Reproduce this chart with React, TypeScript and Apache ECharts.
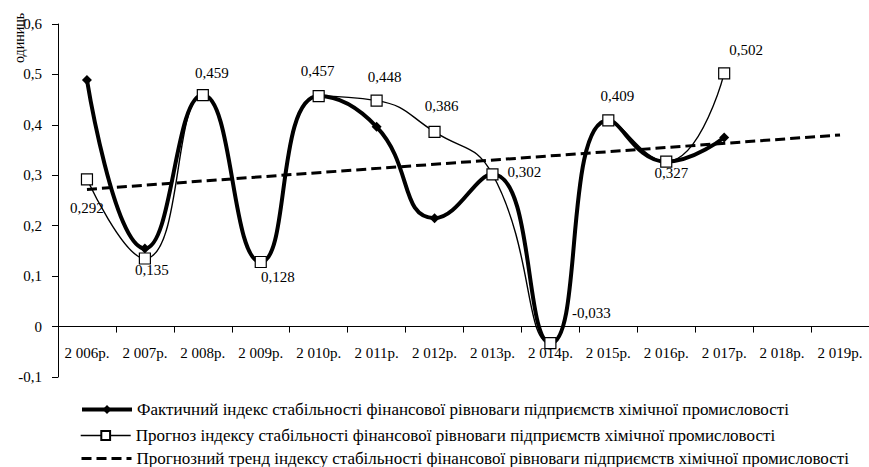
import React, { useEffect, useRef } from "react";
import * as echarts from "echarts";

const years = ["2 006р.", "2 007р.", "2 008р.", "2 009р.", "2 010р.", "2 011р.", "2 012р.", "2 013р.", "2 014р.", "2 015р.", "2 016р.", "2 017р.", "2 018р.", "2 019р."];
const actual = [0.489, 0.155, 0.459, 0.128, 0.457, 0.396, 0.215, 0.302, -0.033, 0.409, 0.327, 0.375, null, null];
const forecast = [0.292, 0.135, 0.459, 0.128, 0.457, 0.448, 0.386, 0.302, -0.033, 0.409, 0.327, 0.502, null, null];
const trend = [0.272, null, null, null, null, null, null, null, null, null, null, null, null, 0.38];
const seriesNames = [
  "Фактичний індекс стабільності фінансової рівноваги підприємств хімічної промисловості",
  "Прогноз індексу стабільності фінансової рівноваги підприємств хімічної промисловості",
  "Прогнозний тренд індексу стабільності фінансової рівноваги підприємств хімічної промисловості",
];
const yTitle = "одиниць";

const labelOffsets = [
  [0, 29], [7, 12], [9, -22], [17, 15], [-1, -25], [8, -24],
  [7, -26], [32, -2], [41, -30], [9, -24], [5, 11], [22, -23],
];

const FONT = "Liberation Serif";

export default function App() {
  const ref = useRef<HTMLDivElement>(null);
  useEffect(() => {
    if (!ref.current) return;
    const chart = echarts.init(ref.current, null, { renderer: "svg" });
    const fmt = (v: number) => (v === 0 ? "0" : String(Math.round(v * 10) / 10).replace(".", ","));
    const legendRow = (i: number, top: number, extra: any) => ({
      orient: "horizontal",
      left: 80,
      top,
      itemWidth: 50,
      itemHeight: 12,
      padding: 0,
      textStyle: { fontFamily: FONT, fontSize: 17, color: "#000" },
      data: [seriesNames[i]],
      ...extra,
    });
    chart.setOption({
      animation: false,
      backgroundColor: "#fff",
      textStyle: { fontFamily: FONT, color: "#000" },
      grid: { left: 58, right: 0, top: 24, bottom: 90 },
      graphic: [
        {
          type: "text",
          x: 12,
          y: 63,
          rotation: Math.PI / 2,
          style: { text: yTitle, fontFamily: FONT, fontSize: 14, fill: "#000", verticalAlign: "top" },
        },
      ],
      legend: [
        legendRow(0, 401, { lineStyle: { width: 4 }, itemHeight: 11 }),
        legendRow(1, 427, { lineStyle: { width: 1.4 }, itemHeight: 11 }),
        legendRow(2, 450, { lineStyle: { width: 3 }, itemStyle: { color: "transparent", borderWidth: 0 } }),
      ],
      xAxis: {
        type: "category",
        data: years,
        boundaryGap: true,
        axisLine: { onZero: true, lineStyle: { color: "#000", width: 1 } },
        axisTick: { show: true, length: 6, lineStyle: { color: "#000" } },
        axisLabel: { margin: -32, fontFamily: FONT, fontSize: 15, color: "#000", interval: 0 },
        splitLine: { show: false },
      },
      yAxis: {
        type: "value",
        min: -0.1,
        max: 0.6,
        interval: 0.1,
        axisLine: { show: true, lineStyle: { color: "#000", width: 1 } },
        axisTick: { show: true, length: 6, lineStyle: { color: "#000" } },
        axisLabel: { margin: 16, fontFamily: FONT, fontSize: 15, color: "#000", formatter: fmt },
        splitLine: { show: false },
      },
      series: [
        {
          name: seriesNames[0],
          type: "line",
          data: actual,
          smooth: 0.5,
          symbol: "diamond",
          symbolSize: 10,
          itemStyle: { color: "#000" },
          lineStyle: { color: "#000", width: 4 },
          z: 2,
        },
        {
          name: seriesNames[1],
          type: "line",
          data: forecast.map((v, i) => ({
            value: v,
            label: {
              show: v !== null,
              position: "inside",
              offset: labelOffsets[i] || [0, 0],
            },
          })),
          smooth: 0.5,
          symbol: "rect",
          symbolSize: 11,
          itemStyle: { color: "#fff", borderColor: "#000", borderWidth: 1.2 },
          lineStyle: { color: "#000", width: 1.4 },
          label: {
            fontFamily: FONT,
            fontSize: 15,
            color: "#000",
            formatter: (p: any) => p.value.toFixed(3).replace(".", ","),
          },
          z: 4,
        },
        {
          name: seriesNames[2],
          type: "line",
          data: trend,
          connectNulls: true,
          symbol: "none",
          itemStyle: { color: "#000" },
          lineStyle: { color: "#000", width: 3, type: [10, 5] },
          z: 3,
        },
      ],
    });
    return () => chart.dispose();
  }, []);
  return <div ref={ref} style={{ position: "fixed", left: 0, top: 0, width: 869, height: 467 }} />;
}
